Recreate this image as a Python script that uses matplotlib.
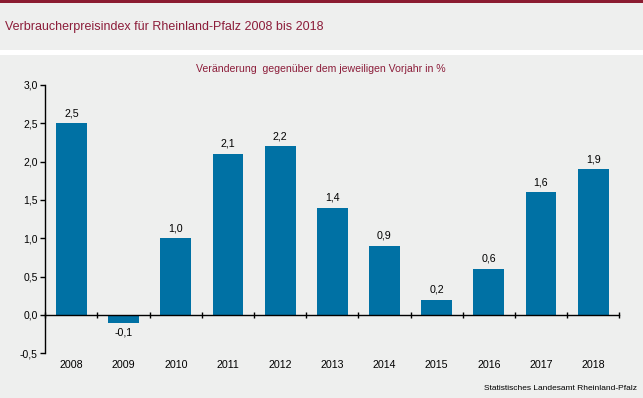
import matplotlib
matplotlib.use("Agg")
import matplotlib.pyplot as plt
import matplotlib.transforms as mtransforms
from matplotlib.patches import Rectangle
import numpy as np

years = ["2008", "2009", "2010", "2011", "2012", "2013", "2014", "2015", "2016", "2017", "2018"]
values = [2.5, -0.1, 1.0, 2.1, 2.2, 1.4, 0.9, 0.2, 0.6, 1.6, 1.9]
yticks = [-0.5, 0.0, 0.5, 1.0, 1.5, 2.0, 2.5, 3.0]

title = "Verbraucherpreisindex für Rheinland-Pfalz 2008 bis 2018"
subtitle = "Veränderung  gegenüber dem jeweiligen Vorjahr in %"
source = "Statistisches Landesamt Rheinland-Pfalz"

BAR = "#0071a4"
RED = "#8c1d3a"
BG = "#eeefee"

plt.rcParams["font.family"] = ["Liberation Sans", "DejaVu Sans"]

W, H = 643, 398
fig = plt.figure(figsize=(W / 100, H / 100), dpi=100)
fig.patch.set_facecolor("white")

def fy(py):
    return 1 - py / H

# title band
fig.patches.append(Rectangle((0, fy(50)), 1, 50 / H, transform=fig.transFigure,
                             facecolor=BG, edgecolor="none", zorder=-10))
fig.patches.append(Rectangle((0, fy(2.5)), 1, 2.5 / H, transform=fig.transFigure,
                             facecolor="#8b1c31", edgecolor="none", zorder=-9))
# chart panel
fig.patches.append(Rectangle((0, 0), 1, fy(55), transform=fig.transFigure,
                             facecolor=BG, edgecolor="none", zorder=-10))

fig.text(5 / W, fy(27), title, color=RED, fontsize=9, va="center", ha="left")
fig.text(320.5 / W, fy(69), subtitle, color=RED, fontsize=7.6, va="center", ha="center")
fig.text(637 / W, fy(389), source, color="black", fontsize=6, va="center", ha="right")

left, right = 45.3 / W, 619.3 / W
bottom, top = fy(353.3), fy(85)
ax = fig.add_axes([left, bottom, right - left, top - bottom])
ax.set_zorder(5)
ax.set_facecolor("none")

x = np.arange(len(years))
ax.bar(x, values, width=0.59, color=BAR, zorder=2)

ax.set_xlim(-0.5, len(years) - 0.5)
ax.set_ylim(yticks[0], yticks[-1])

for s in ["top", "right"]:
    ax.spines[s].set_visible(False)
ax.spines["bottom"].set_position(("data", 0))
ax.spines["bottom"].set_linewidth(1.0)
ax.spines["left"].set_linewidth(1.0)
ax.spines["bottom"].set_zorder(3)

ax.set_yticks(yticks)
ax.set_yticklabels([f"{v:.1f}".replace(".", ",") for v in yticks], fontsize=7.5)
ax.tick_params(axis="y", direction="out", length=3.5, width=1, pad=2)

ax.set_xticks(x)
ax.set_xticklabels([])
ax.tick_params(axis="x", which="major", length=0)
ax.set_xticks(np.arange(len(years) + 1) - 0.5, minor=True)
ax.tick_params(axis="x", which="minor", direction="inout", length=5, width=1)

trans = mtransforms.blended_transform_factory(ax.transData, ax.transAxes)
for xi, yr in zip(x, years):
    ax.text(xi, 0, yr, transform=trans + mtransforms.ScaledTranslation(0, -12 / 100, fig.dpi_scale_trans),
            ha="center", va="center", fontsize=7.7)

for xi, v in zip(x, values):
    off = 10 / 100 if v >= 0 else -10 / 100
    ax.text(xi, v, f"{v:.1f}".replace(".", ","),
            transform=ax.transData + mtransforms.ScaledTranslation(0, off, fig.dpi_scale_trans),
            ha="center", va="center", fontsize=7.7)

fig.savefig("out.png", dpi=100, facecolor=fig.get_facecolor())
